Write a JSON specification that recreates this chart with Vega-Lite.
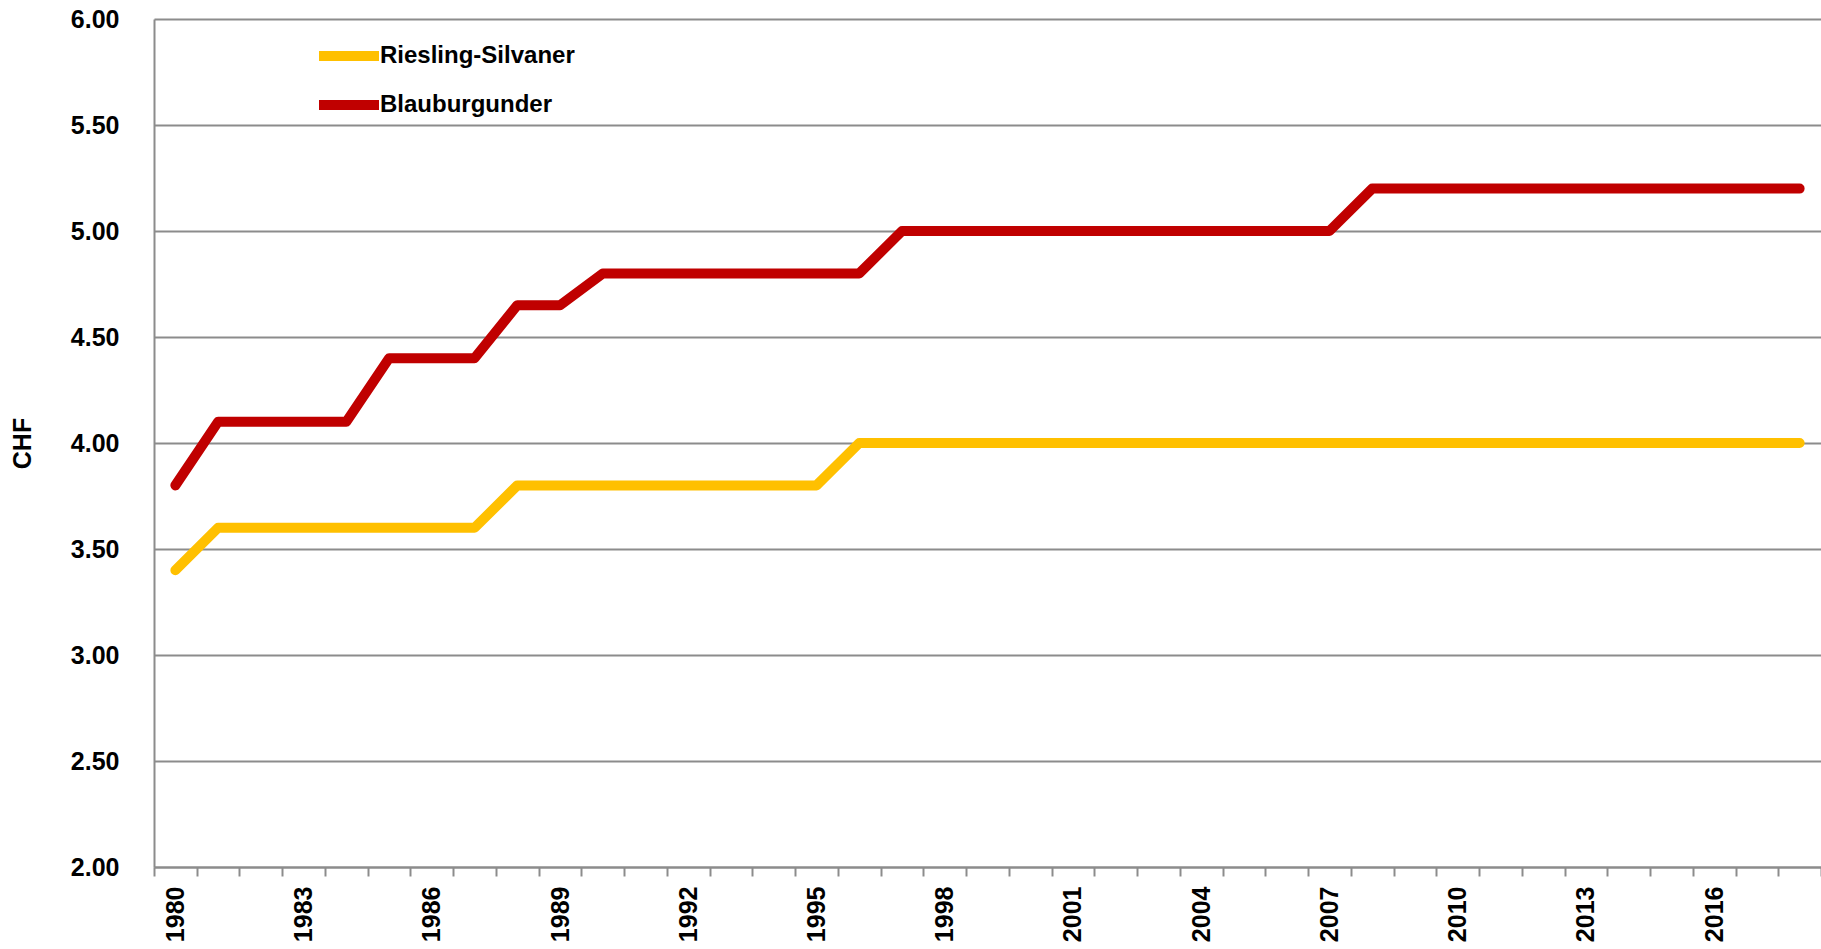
{
  "$schema": "https://vega.github.io/schema/vega-lite/v6.json",
  "autosize": {"type": "none"},
  "padding": {"left": 154, "top": 19, "right": 0, "bottom": 82},
  "width": 1667,
  "height": 848,
  "background": "white",
  "config": {
    "view": {"stroke": null},
    "font": "Liberation Sans"
  },
  "data": {
    "values": [
      {"year": 1980, "variety": "Riesling-Silvaner", "price": 3.40},
      {"year": 1981, "variety": "Riesling-Silvaner", "price": 3.60},
      {"year": 1982, "variety": "Riesling-Silvaner", "price": 3.60},
      {"year": 1983, "variety": "Riesling-Silvaner", "price": 3.60},
      {"year": 1984, "variety": "Riesling-Silvaner", "price": 3.60},
      {"year": 1985, "variety": "Riesling-Silvaner", "price": 3.60},
      {"year": 1986, "variety": "Riesling-Silvaner", "price": 3.60},
      {"year": 1987, "variety": "Riesling-Silvaner", "price": 3.60},
      {"year": 1988, "variety": "Riesling-Silvaner", "price": 3.80},
      {"year": 1989, "variety": "Riesling-Silvaner", "price": 3.80},
      {"year": 1990, "variety": "Riesling-Silvaner", "price": 3.80},
      {"year": 1991, "variety": "Riesling-Silvaner", "price": 3.80},
      {"year": 1992, "variety": "Riesling-Silvaner", "price": 3.80},
      {"year": 1993, "variety": "Riesling-Silvaner", "price": 3.80},
      {"year": 1994, "variety": "Riesling-Silvaner", "price": 3.80},
      {"year": 1995, "variety": "Riesling-Silvaner", "price": 3.80},
      {"year": 1996, "variety": "Riesling-Silvaner", "price": 4.00},
      {"year": 1997, "variety": "Riesling-Silvaner", "price": 4.00},
      {"year": 1998, "variety": "Riesling-Silvaner", "price": 4.00},
      {"year": 1999, "variety": "Riesling-Silvaner", "price": 4.00},
      {"year": 2000, "variety": "Riesling-Silvaner", "price": 4.00},
      {"year": 2001, "variety": "Riesling-Silvaner", "price": 4.00},
      {"year": 2002, "variety": "Riesling-Silvaner", "price": 4.00},
      {"year": 2003, "variety": "Riesling-Silvaner", "price": 4.00},
      {"year": 2004, "variety": "Riesling-Silvaner", "price": 4.00},
      {"year": 2005, "variety": "Riesling-Silvaner", "price": 4.00},
      {"year": 2006, "variety": "Riesling-Silvaner", "price": 4.00},
      {"year": 2007, "variety": "Riesling-Silvaner", "price": 4.00},
      {"year": 2008, "variety": "Riesling-Silvaner", "price": 4.00},
      {"year": 2009, "variety": "Riesling-Silvaner", "price": 4.00},
      {"year": 2010, "variety": "Riesling-Silvaner", "price": 4.00},
      {"year": 2011, "variety": "Riesling-Silvaner", "price": 4.00},
      {"year": 2012, "variety": "Riesling-Silvaner", "price": 4.00},
      {"year": 2013, "variety": "Riesling-Silvaner", "price": 4.00},
      {"year": 2014, "variety": "Riesling-Silvaner", "price": 4.00},
      {"year": 2015, "variety": "Riesling-Silvaner", "price": 4.00},
      {"year": 2016, "variety": "Riesling-Silvaner", "price": 4.00},
      {"year": 2017, "variety": "Riesling-Silvaner", "price": 4.00},
      {"year": 2018, "variety": "Riesling-Silvaner", "price": 4.00},
      {"year": 1980, "variety": "Blauburgunder", "price": 3.80},
      {"year": 1981, "variety": "Blauburgunder", "price": 4.10},
      {"year": 1982, "variety": "Blauburgunder", "price": 4.10},
      {"year": 1983, "variety": "Blauburgunder", "price": 4.10},
      {"year": 1984, "variety": "Blauburgunder", "price": 4.10},
      {"year": 1985, "variety": "Blauburgunder", "price": 4.40},
      {"year": 1986, "variety": "Blauburgunder", "price": 4.40},
      {"year": 1987, "variety": "Blauburgunder", "price": 4.40},
      {"year": 1988, "variety": "Blauburgunder", "price": 4.65},
      {"year": 1989, "variety": "Blauburgunder", "price": 4.65},
      {"year": 1990, "variety": "Blauburgunder", "price": 4.80},
      {"year": 1991, "variety": "Blauburgunder", "price": 4.80},
      {"year": 1992, "variety": "Blauburgunder", "price": 4.80},
      {"year": 1993, "variety": "Blauburgunder", "price": 4.80},
      {"year": 1994, "variety": "Blauburgunder", "price": 4.80},
      {"year": 1995, "variety": "Blauburgunder", "price": 4.80},
      {"year": 1996, "variety": "Blauburgunder", "price": 4.80},
      {"year": 1997, "variety": "Blauburgunder", "price": 5.00},
      {"year": 1998, "variety": "Blauburgunder", "price": 5.00},
      {"year": 1999, "variety": "Blauburgunder", "price": 5.00},
      {"year": 2000, "variety": "Blauburgunder", "price": 5.00},
      {"year": 2001, "variety": "Blauburgunder", "price": 5.00},
      {"year": 2002, "variety": "Blauburgunder", "price": 5.00},
      {"year": 2003, "variety": "Blauburgunder", "price": 5.00},
      {"year": 2004, "variety": "Blauburgunder", "price": 5.00},
      {"year": 2005, "variety": "Blauburgunder", "price": 5.00},
      {"year": 2006, "variety": "Blauburgunder", "price": 5.00},
      {"year": 2007, "variety": "Blauburgunder", "price": 5.00},
      {"year": 2008, "variety": "Blauburgunder", "price": 5.20},
      {"year": 2009, "variety": "Blauburgunder", "price": 5.20},
      {"year": 2010, "variety": "Blauburgunder", "price": 5.20},
      {"year": 2011, "variety": "Blauburgunder", "price": 5.20},
      {"year": 2012, "variety": "Blauburgunder", "price": 5.20},
      {"year": 2013, "variety": "Blauburgunder", "price": 5.20},
      {"year": 2014, "variety": "Blauburgunder", "price": 5.20},
      {"year": 2015, "variety": "Blauburgunder", "price": 5.20},
      {"year": 2016, "variety": "Blauburgunder", "price": 5.20},
      {"year": 2017, "variety": "Blauburgunder", "price": 5.20},
      {"year": 2018, "variety": "Blauburgunder", "price": 5.20}
    ]
  },
  "mark": {"type": "line", "strokeWidth": 10, "strokeCap": "round", "strokeJoin": "round"},
  "encoding": {
    "x": {
      "field": "year",
      "type": "ordinal",
      "bandPosition": 0.5,
      "scale": {"type": "band", "paddingInner": 0, "paddingOuter": 0},
      "axis": {
        "title": null,
        "labelAngle": -90,
        "labelExpr": "(datum.value - 1980) % 3 == 0 ? datum.label : ''",
        "labelOverlap": false,
        "labelFont": "Liberation Sans",
        "labelFontSize": 25,
        "labelFontWeight": "bold",
        "labelColor": "#000000",
        "labelPadding": 10,
        "tickBand": "extent",
        "tickSize": 9,
        "tickWidth": 2,
        "tickColor": "#8c8c8c",
        "domainColor": "#8c8c8c",
        "domainWidth": 2,
        "grid": false
      }
    },
    "y": {
      "field": "price",
      "type": "quantitative",
      "scale": {"domain": [2, 6], "nice": false, "zero": false},
      "axis": {
        "title": "CHF",
        "titleFont": "Liberation Sans",
        "titleFontSize": 25,
        "titleFontWeight": "bold",
        "titleColor": "#000000",
        "titleX": -132,
        "titleY": 424,
        "titleAlign": "center",
        "titleBaseline": "middle",
        "values": [2, 2.5, 3, 3.5, 4, 4.5, 5, 5.5, 6],
        "format": ".2f",
        "labelFont": "Liberation Sans",
        "labelFontSize": 25,
        "labelFontWeight": "bold",
        "labelColor": "#000000",
        "labelPadding": 35,
        "ticks": false,
        "domainColor": "#8c8c8c",
        "domainWidth": 2,
        "grid": true,
        "gridColor": "#8c8c8c",
        "gridWidth": 2
      }
    },
    "color": {
      "field": "variety",
      "type": "nominal",
      "sort": ["Riesling-Silvaner", "Blauburgunder"],
      "scale": {"domain": ["Riesling-Silvaner", "Blauburgunder"], "range": ["#FFC000", "#C00000"]},
      "legend": {
        "title": null,
        "orient": "none",
        "legendX": 175,
        "legendY": 17,
        "symbolType": "M-2,0L2,0",
        "symbolSize": 900,
        "symbolStrokeWidth": 10,
        "symbolOffset": 0,
        "labelOffset": 11,
        "labelLimit": 0,
        "labelFont": "Liberation Sans",
        "labelFontSize": 24,
        "labelFontWeight": "bold",
        "labelColor": "#000000",
        "rowPadding": 9
      }
    }
  }
}
